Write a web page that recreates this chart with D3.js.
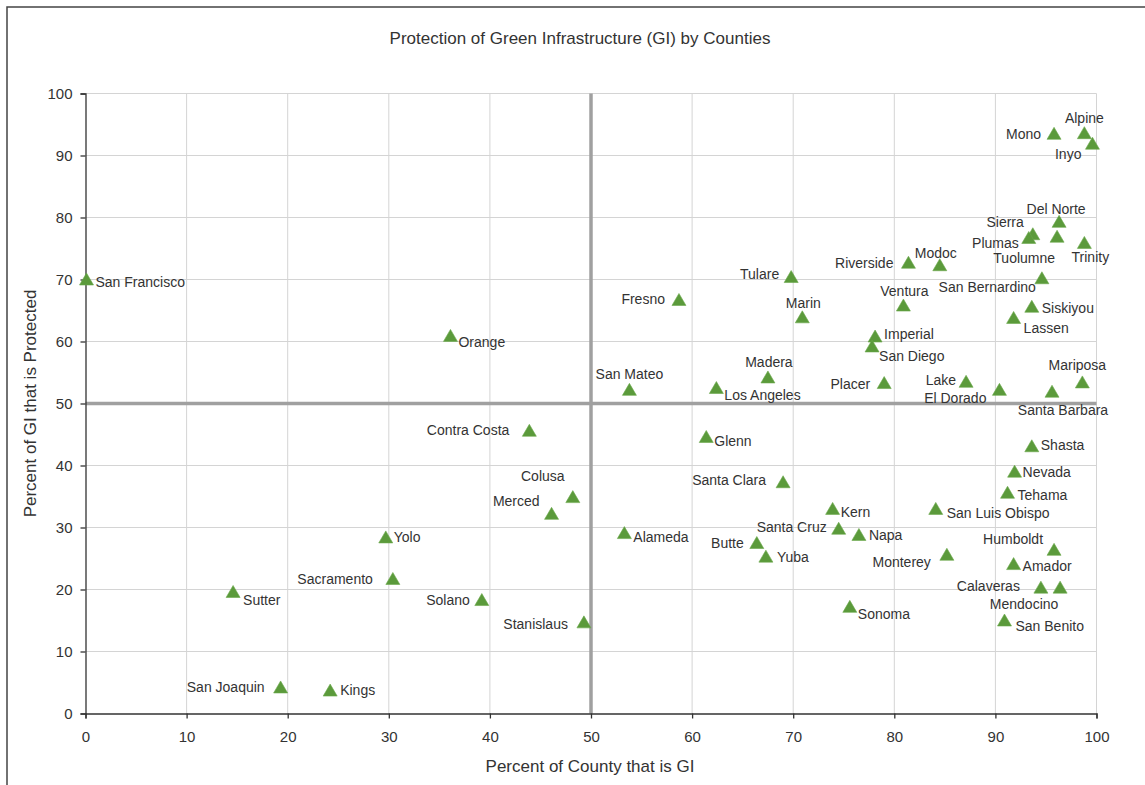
<!DOCTYPE html>
<html>
<head>
<meta charset="utf-8">
<script src="https://cdn.jsdelivr.net/npm/d3@7"></script>
<style>
  html, body { margin: 0; padding: 0; background: #fff; }
  svg { display: block; font-family: "Liberation Sans", Arial, sans-serif; }
</style>
</head>
<body>
<svg id="chart" width="1145" height="785"></svg>
<script>
// ---- Data ----
const counties = ["San Francisco","Orange","Contra Costa","San Mateo","Fresno","Tulare","Marin","Ventura","Riverside","Modoc",
  "Imperial","San Diego","Madera","Los Angeles","Placer","Lake","El Dorado","Santa Barbara","Mariposa","Glenn",
  "Shasta","Nevada","Santa Clara","Tehama","Kern","San Luis Obispo","Alameda","Santa Cruz","Napa","Butte",
  "Yuba","Monterey","Humboldt","Amador","Calaveras","Mendocino","Sonoma","San Benito","Stanislaus","Colusa",
  "Merced","Yolo","Sacramento","Sutter","Solano","San Joaquin","Kings","Mono","Alpine","Inyo",
  "Del Norte","Sierra","Plumas","Tuolumne","Trinity","San Bernardino","Siskiyou","Lassen"];
const pctCountyGI = [0.1,36.1,43.9,53.8,58.7,69.8,70.9,80.9,81.4,84.5,
  78.1,77.8,67.5,62.4,79.0,87.1,90.4,95.6,98.6,61.4,
  93.6,91.9,69.0,91.2,73.9,84.1,53.3,74.5,76.5,66.4,
  67.3,85.2,95.8,91.8,94.5,96.4,75.6,90.9,49.3,48.2,
  46.1,29.7,30.4,14.6,39.2,19.3,24.2,95.8,98.8,99.6,
  96.3,93.7,93.3,96.1,98.8,94.6,93.6,91.8];
const pctGIProtected = [70.0,60.9,45.6,52.2,66.7,70.4,63.9,65.8,72.7,72.3,
  60.8,59.2,54.2,52.5,53.3,53.5,52.2,51.9,53.4,44.6,
  43.1,39.0,37.3,35.6,33.0,33.0,29.1,29.8,28.8,27.5,
  25.3,25.6,26.4,24.1,20.3,20.3,17.2,15.0,14.7,34.9,
  32.2,28.4,21.7,19.6,18.3,4.2,3.7,93.5,93.6,91.9,
  79.3,77.3,76.7,76.9,75.9,70.2,65.6,63.8];
const xTicks = [0,10,20,30,40,50,60,70,80,90,100];
const yTicks = [0,10,20,30,40,50,60,70,80,90,100];
const xThreshold = 50;
const yThreshold = 50;
const titleText = "Protection of Green Infrastructure (GI) by Counties";
const xTitle = "Percent of County that is GI";
const yTitle = "Percent of GI that is Protected";

// ---- Label placement (style: offset from marker, anchor) ----
const labelPlacement = [[9,3,"start"],[8,6,"start"],[-20,-1,"end"],[0,-16,"middle"],[-14,-1,"end"],[-12,-3,"end"],[1,-14,"middle"],[1,-14,"middle"],[-15,0,"end"],[-4,-12,"middle"],
  [9,-2,"start"],[7,10,"start"],[1,-15,"middle"],[8,7,"start"],[-14,1,"end"],[-10,-2,"end"],[-13,8,"end"],[11,18,"middle"],[-5,-17,"middle"],[8,4,"start"],
  [9,-1,"start"],[8,0,"start"],[-17,-2,"end"],[10,2,"start"],[8,3,"start"],[11,4,"start"],[9,4,"start"],[-12,-2,"end"],[10,0,"start"],[-13,0,"end"],
  [11,0,"start"],[-16,7,"end"],[-11,-11,"end"],[9,2,"start"],[-21,-2,"end"],[-36,16,"middle"],[8,7,"start"],[11,6,"start"],[-16,2,"end"],[-30,-21,"middle"],
  [-12,-13,"end"],[8,0,"start"],[-20,0,"end"],[10,8,"start"],[-12,0,"end"],[-16,0,"end"],[10,0,"start"],[-13,0,"end"],[0,-15,"middle"],[-11,10,"end"],
  [-3,-13,"middle"],[-9,-12,"end"],[-10,5,"end"],[-2,21,"end"],[6,14,"middle"],[-6,9,"end"],[10,1,"start"],[10,10,"start"]];

// ---- Drawing ----
const svg = d3.select("#chart");
const W = 1145, H = 785;
const plot = { left: 85.5, right: 1096.5, top: 93.5, bottom: 713.5 };

const x = d3.scaleLinear().domain([0, 100]).range([plot.left, plot.right]);
const y = d3.scaleLinear().domain([0, 100]).range([plot.bottom, plot.top]);

// outer frame (extends past the image on right/bottom)
svg.append("rect").attr("x", 7).attr("y", 7).attr("width", W + 20).attr("height", H + 20)
  .attr("fill", "#fff").attr("stroke", "#444").attr("stroke-width", 1.5);

// title
svg.append("text").attr("x", 580).attr("y", 44).attr("text-anchor", "middle")
  .attr("font-size", 17).attr("fill", "#333").text(titleText);

// gridlines
const grid = svg.append("g");
grid.selectAll(".vg").data(xTicks.filter(d => d > 0)).join("line")
  .attr("x1", d => x(d)).attr("x2", d => x(d)).attr("y1", plot.top).attr("y2", plot.bottom)
  .attr("stroke", "#d4d4d4").attr("stroke-width", 1);
grid.selectAll(".hg").data(yTicks.filter(d => d > 0)).join("line")
  .attr("x1", plot.left).attr("x2", plot.right).attr("y1", d => y(d)).attr("y2", d => y(d))
  .attr("stroke", "#d4d4d4").attr("stroke-width", 1);

// threshold lines
svg.append("line").attr("x1", x(xThreshold)).attr("x2", x(xThreshold)).attr("y1", plot.top).attr("y2", plot.bottom)
  .attr("stroke", "#a0a0a0").attr("stroke-width", 3.5);
svg.append("line").attr("x1", plot.left).attr("x2", plot.right).attr("y1", y(yThreshold)).attr("y2", y(yThreshold))
  .attr("stroke", "#a0a0a0").attr("stroke-width", 3.5);

// axes
const xAxis = svg.append("g").attr("transform", `translate(0,${plot.bottom})`)
  .call(d3.axisBottom(x).tickValues(xTicks).tickSize(5).tickSizeOuter(5).tickPadding(13));
const yAxis = svg.append("g").attr("transform", `translate(${plot.left},0)`)
  .call(d3.axisLeft(y).tickValues(yTicks).tickSize(5).tickSizeOuter(5).tickPadding(8));
[xAxis, yAxis].forEach(a => {
  a.select(".domain").attr("stroke", "#333").attr("stroke-width", 1.3);
  a.selectAll(".tick line").attr("stroke", "#333").attr("stroke-width", 1.3);
  a.selectAll(".tick text").attr("font-size", 15).attr("fill", "#333")
    .attr("font-family", "'Liberation Sans', Arial, sans-serif");
});

// axis titles
svg.append("text").attr("x", 590).attr("y", 772).attr("text-anchor", "middle")
  .attr("font-size", 17).attr("fill", "#333").text(xTitle);
svg.append("text").attr("transform", `translate(36,${(plot.top + plot.bottom) / 2}) rotate(-90)`)
  .attr("text-anchor", "middle").attr("font-size", 17).attr("fill", "#333").text(yTitle);

// points
const pts = counties.map((name, i) => ({ name, gx: pctCountyGI[i], gy: pctGIProtected[i], lp: labelPlacement[i] }));
const tri = "M0,-6.5L7,5.5L-7,5.5Z";
svg.append("g").selectAll("path").data(pts).join("path")
  .attr("d", tri)
  .attr("transform", d => `translate(${x(d.gx)},${y(d.gy)})`)
  .attr("fill", "#5b9a3b").attr("stroke", "#6aa84a").attr("stroke-width", 0.6);

// labels
svg.append("g").selectAll("text").data(pts).join("text")
  .attr("x", d => x(d.gx) + d.lp[0])
  .attr("y", d => y(d.gy) + d.lp[1])
  .attr("dy", "0.35em")
  .attr("text-anchor", d => d.lp[2])
  .attr("font-size", 14).attr("fill", "#333")
  .text(d => d.name);
</script>
</body>
</html>
